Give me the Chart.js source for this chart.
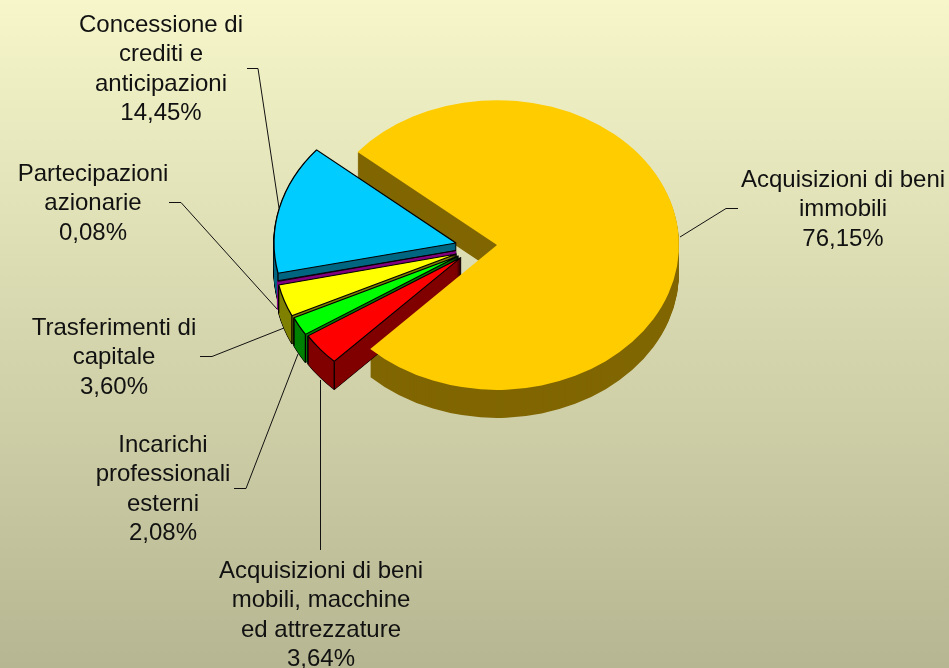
<!DOCTYPE html>
<html><head><meta charset="utf-8">
<style>html,body{margin:0;padding:0;background:#ddd}canvas{display:block}</style>
<script src="https://cdn.jsdelivr.net/npm/chart.js@4"></script>
</head><body>
<canvas id="c" width="949" height="668"></canvas>
<script>
const categories = [
  "Acquisizioni di beni immobili",
  "Acquisizioni di beni mobili, macchine ed attrezzature",
  "Incarichi professionali esterni",
  "Trasferimenti di capitale",
  "Partecipazioni azionarie",
  "Concessione di crediti e anticipazioni"
];
const values = [76.15, 3.64, 2.08, 3.60, 0.08, 14.45];
const wrappedLabels = [
  ["Acquisizioni di beni","immobili"],
  ["Acquisizioni di beni","mobili, macchine","ed attrezzature"],
  ["Incarichi","professionali","esterni"],
  ["Trasferimenti di","capitale"],
  ["Partecipazioni","azionarie"],
  ["Concessione di","crediti e","anticipazioni"]
];
const topColors  = ["#FFCC00","#FF0000","#00FF00","#FFFF00","#800080","#00CCFF"];
const wallColors = ["#806600","#800000","#008000","#808000","#800080","#006680"];
const edgeWidths = [0,1.3,1.3,1.3,1,1.3];
const wallFill   = [0,0,0,0,2.5,0];

// presentation: 3D look
const squash = 0.796, depth = 28, pieRadius = 182, pieRotation = -50;
const shiftX = [41, 5, 2.5, 0.5, 0, 0];
const shiftY = [2, 14.5, 13, 11, 7.5, 0];
const labelCenters = [[843,180],[321,571],[163,445],[114,328],[93,174],[161,25]];
const leaders = [
  [[738,208.5],[726,208.5],[680,237]],
  [[320.5,550],[320.5,380]],
  [[234,488.5],[246,488.5],[298,354]],
  [[200,356.5],[212,356.5],[284,328]],
  [[169,202.5],[181,202.5],[277,309]],
  [[247,68.5],[258,68.5],[279,208]]
];
const lineStep = 29.6;

function variant(arc, opts){
  const f = Object.create(arc);
  f.options = Object.assign({}, arc.options, opts);
  return f;
}

const pie3d = {
  id:'pie3d',
  beforeDraw(chart){
    const {ctx,width,height} = chart;
    const g = ctx.createLinearGradient(0,0,0,height);
    g.addColorStop(0,'#F6F6CA');
    g.addColorStop(1,'#B6B692');
    ctx.fillStyle = g; ctx.fillRect(0,0,width,height);
  },
  beforeDatasetsDraw(chart){
    const {ctx} = chart;
    const arcs = chart.getDatasetMeta(0).data;
    const cx = arcs[0].x, cy = arcs[0].y;
    const withShift = (i, extra, fn) => {
      ctx.save();
      ctx.translate(cx + shiftX[i], cy + shiftY[i] + extra);
      ctx.scale(1, squash);
      ctx.translate(-cx, -cy);
      fn();
      ctx.restore();
    };
    const wall = (i) => {
      const arc = arcs[i], w = edgeWidths[i], thin = wallFill[i] > 0;
      if (w > 0 && !thin) {
        const o = variant(arc,{backgroundColor:'#000',borderColor:'#000',borderWidth:w});
        for (let d = depth; d >= 1; d--) withShift(i,d,()=>o.draw(ctx));
      }
      const f = variant(arc,{backgroundColor:wallColors[i],borderColor:wallColors[i],borderWidth:wallFill[i]});
      for (let d = depth; d >= 1; d--) withShift(i,d,()=>f.draw(ctx));
      if (w > 0 && !thin) {
        [arc.startAngle, arc.endAngle].forEach(a=>{
          const x = cx + shiftX[i] + Math.cos(a)*pieRadius;
          const y = cy + shiftY[i] + Math.sin(a)*pieRadius*squash;
          ctx.beginPath(); ctx.moveTo(x,y); ctx.lineTo(x,y+depth);
          ctx.strokeStyle='#000'; ctx.lineWidth=w; ctx.stroke();
        });
      }
    };
    const top = (i) => withShift(i,0,()=>arcs[i].draw(ctx));
    wall(0);
    for (let i = arcs.length-1; i >= 1; i--) { wall(i); top(i); }
    top(0);
    return false;
  },
  afterDraw(chart){
    const {ctx} = chart;
    ctx.save();
    ctx.strokeStyle='#111'; ctx.lineWidth=1;
    leaders.forEach(p=>{
      ctx.beginPath();
      p.forEach((q,i)=> i ? ctx.lineTo(q[0],q[1]) : ctx.moveTo(q[0],q[1]));
      ctx.stroke();
    });
    ctx.fillStyle='#111';
    ctx.font='24px "Liberation Sans", Arial, sans-serif';
    ctx.textAlign='center'; ctx.textBaseline='middle';
    wrappedLabels.forEach((lines,i)=>{
      const all = lines.concat([values[i].toFixed(2).replace('.',',')+'%']);
      all.forEach((t,j)=> ctx.fillText(t,labelCenters[i][0],labelCenters[i][1]+j*lineStep));
    });
    ctx.restore();
  }
};

new Chart(document.getElementById('c'),{
  type:'pie',
  data:{labels:categories,datasets:[{data:values,backgroundColor:topColors,borderColor:'#000',borderWidth:edgeWidths}]},
  options:{
    responsive:false,animation:false,
    rotation:pieRotation,radius:pieRadius,
    layout:{padding:{left:0,top:0,right:949-2*456,bottom:668-2*243}},
    plugins:{legend:{display:false},tooltip:{enabled:false}}
  },
  plugins:[pie3d]
});
</script>
</body></html>
